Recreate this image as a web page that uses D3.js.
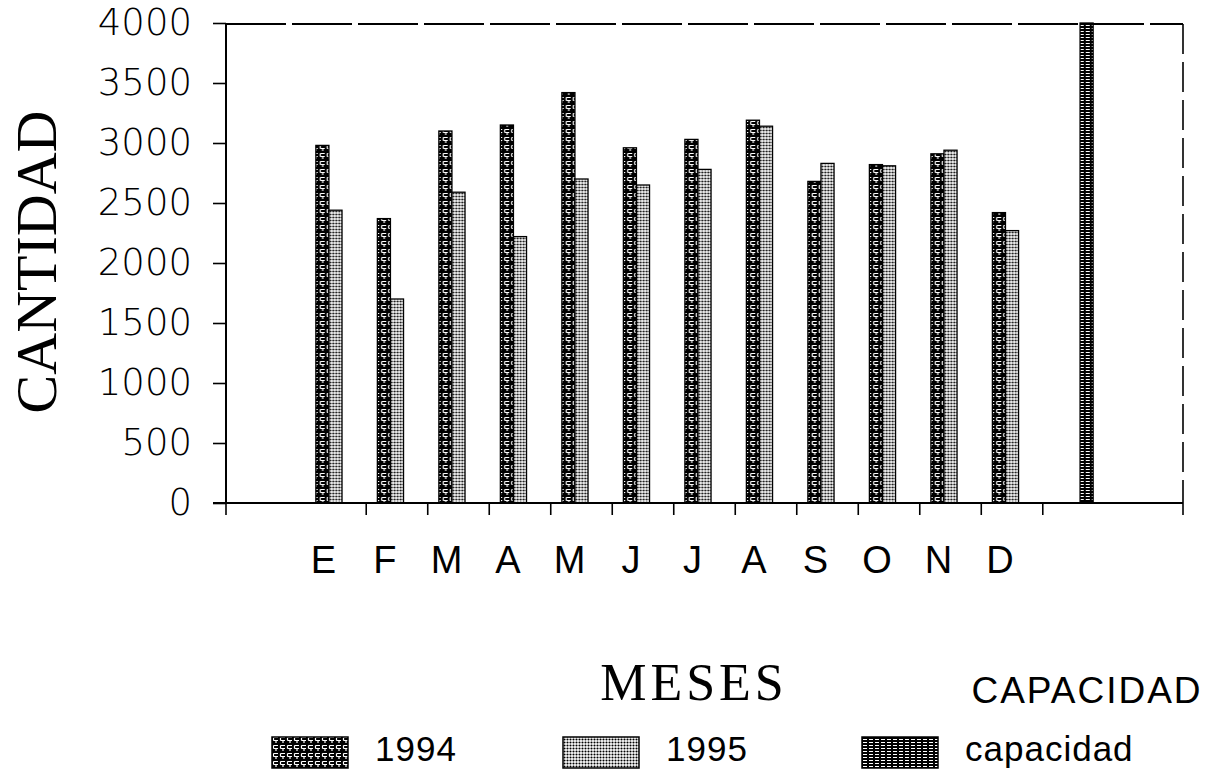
<!DOCTYPE html>
<html>
<head>
<meta charset="utf-8">
<script src="https://cdn.jsdelivr.net/npm/d3@7"></script>
<style>
  html, body { margin: 0; padding: 0; background: #fff; }
  svg { display: block; }
</style>
</head>
<body>
<div id="chart"></div>
<script>
// Monthly quantities 1994 vs 1995 with plant capacity, scanned Lotus-style chart.

const MONTHS = ["E", "F", "M", "A", "M", "J", "J", "A", "S", "O", "N", "D", ""];
const V1994 = [2980, 2370, 3100, 3150, 3420, 2960, 3030, 3190, 2680, 2820, 2910, 2420, 0];
const V1995 = [2440, 1700, 2590, 2220, 2700, 2650, 2780, 3140, 2830, 2810, 2940, 2270, 0];
const VCAP = [0, 0, 0, 0, 0, 0, 0, 0, 0, 0, 0, 0, 4000];
const SERIES = ["1994", "1995", "capacidad"];
const Y_TICKS = [0, 500, 1000, 1500, 2000, 2500, 3000, 3500, 4000];

const W = 1219, H = 775;
const PLOT = { left: 226, right: 1183, top: 23, bottom: 503 };
const INK = "#000";

const svg = d3.select("#chart").append("svg")
  .attr("width", W).attr("height", H)
  .attr("viewBox", [0, 0, W, H]);

// fill patterns that mimic the old plotter hatching
const defs = svg.append("defs");

const p94 = defs.append("pattern").attr("id", "pat1994")
  .attr("patternUnits", "userSpaceOnUse").attr("width", 7).attr("height", 8);
p94.append("rect").attr("width", 7).attr("height", 8).attr("fill", INK);
p94.append("path")
  .attr("d", "M1.5,1.5h4.5M1.5,1.5v3M1.5,4.5h4.5M4,4.5v2.5")
  .attr("stroke", "#fff").attr("stroke-width", 1.2).attr("fill", "none");

const p95 = defs.append("pattern").attr("id", "pat1995")
  .attr("patternUnits", "userSpaceOnUse").attr("width", 3).attr("height", 3);
p95.append("rect").attr("width", 3).attr("height", 3).attr("fill", "#fff");
p95.append("circle").attr("cx", 1.5).attr("cy", 1.5).attr("r", 1.08).attr("fill", INK);

const pCap = defs.append("pattern").attr("id", "patCap")
  .attr("patternUnits", "userSpaceOnUse").attr("width", 6).attr("height", 3);
pCap.append("rect").attr("width", 6).attr("height", 3).attr("fill", INK);
pCap.append("rect").attr("x", 1).attr("y", 1).attr("width", 4).attr("height", 1).attr("fill", "#fff");

const FILLS = ["url(#pat1994)", "url(#pat1995)", "url(#patCap)"];

const x = d3.scaleBand()
  .domain(d3.range(MONTHS.length))
  .range([PLOT.left, PLOT.right])
  .paddingInner(0)
  .paddingOuter(1.28);

const xs = d3.scaleBand()
  .domain([0, 1, 2])
  .range([0, x.step()])
  .paddingInner(0)
  .paddingOuter(0.85);

const y = d3.scaleLinear().domain([0, 4000]).range([PLOT.bottom, PLOT.top]);

const rows = MONTHS.map((m, i) => ({ i, values: [V1994[i], V1995[i], VCAP[i]] }));

// bars
const groups = svg.append("g").selectAll("g")
  .data(rows)
  .join("g")
  .attr("transform", (d) => `translate(${x(d.i)},0)`);

groups.selectAll("rect")
  .data((d) => d.values.map((v, s) => ({ v, s })).filter((e) => e.v > 0))
  .join("rect")
  .attr("x", (e) => xs(e.s))
  .attr("width", xs.bandwidth())
  .attr("y", (e) => y(e.v))
  .attr("height", (e) => y(0) - y(e.v))
  .attr("fill", (e) => FILLS[e.s])
  .attr("stroke", INK)
  .attr("stroke-width", 1.3);

// frame: solid left axis, dashed top and right
svg.append("line")
  .attr("x1", PLOT.left).attr("x2", PLOT.left)
  .attr("y1", PLOT.top).attr("y2", PLOT.bottom)
  .attr("stroke", INK).attr("stroke-width", 2);

svg.append("line")
  .attr("x1", PLOT.left).attr("x2", PLOT.right)
  .attr("y1", PLOT.top + 1).attr("y2", PLOT.top + 1)
  .attr("stroke", INK).attr("stroke-width", 1.8)
  .attr("stroke-dasharray", "60 6");

svg.append("line")
  .attr("x1", PLOT.right).attr("x2", PLOT.right)
  .attr("y1", PLOT.top + 1).attr("y2", PLOT.bottom)
  .attr("stroke", INK).attr("stroke-width", 1.6)
  .attr("stroke-dasharray", "30 8");

// y axis
svg.append("g")
  .attr("transform", `translate(${PLOT.left},0)`)
  .call(d3.axisLeft(y).tickValues(Y_TICKS).tickSize(13).tickPadding(21).tickFormat(d3.format("d")))
  .call((g) => g.select(".domain").remove())
  .call((g) => g.selectAll(".tick line").attr("stroke", INK).attr("stroke-width", 1.6))
  .call((g) => g.selectAll(".tick text")
    .attr("fill", INK)
    .style("font-family", "'DejaVu Sans', sans-serif")
    .style("font-size", "37px")
    .style("font-weight", "200"));

// x axis baseline and ticks at band boundaries
svg.append("line")
  .attr("x1", PLOT.left - 13).attr("x2", PLOT.right)
  .attr("y1", PLOT.bottom).attr("y2", PLOT.bottom)
  .attr("stroke", INK).attr("stroke-width", 2);

const xTicks = [PLOT.left, ...d3.range(MONTHS.length - 1).map((i) => x(i) + x.step()), PLOT.right];
svg.append("g").selectAll("line")
  .data(xTicks)
  .join("line")
  .attr("x1", (d) => d).attr("x2", (d) => d)
  .attr("y1", (d, i) => (i === 0 ? PLOT.bottom - 6 : PLOT.bottom))
  .attr("y2", PLOT.bottom + 12)
  .attr("stroke", INK).attr("stroke-width", 1.6);

svg.append("g").selectAll("text")
  .data(rows.filter((d) => MONTHS[d.i] !== ""))
  .join("text")
  .attr("x", (d) => x(d.i) + x.bandwidth() / 2 - 12)
  .attr("y", 573)
  .attr("text-anchor", "middle")
  .attr("fill", INK)
  .style("font-family", "'Liberation Sans Narrow', 'Liberation Sans', sans-serif")
  .style("font-size", "38px")
  .text((d) => MONTHS[d.i]);

// titles
svg.append("text")
  .attr("transform", "translate(56,262) rotate(-90)")
  .attr("text-anchor", "middle")
  .attr("fill", INK)
  .style("font-family", "'Liberation Serif', 'DejaVu Serif', serif")
  .style("font-size", "58px")
  .text("CANTIDAD");

svg.append("text")
  .attr("x", 694).attr("y", 700)
  .attr("text-anchor", "middle")
  .attr("fill", INK)
  .style("font-family", "'Liberation Serif', 'DejaVu Serif', serif")
  .style("font-size", "52px")
  .style("letter-spacing", "4px")
  .text("MESES");

svg.append("text")
  .attr("x", 1087).attr("y", 703)
  .attr("text-anchor", "middle")
  .attr("fill", INK)
  .style("font-family", "'Liberation Sans', sans-serif")
  .style("font-size", "37px")
  .style("letter-spacing", "2px")
  .text("CAPACIDAD");

// legend
const LEGEND_X = [272, 563, 862];
const legend = svg.append("g").selectAll("g")
  .data(SERIES)
  .join("g")
  .attr("transform", (d, i) => `translate(${LEGEND_X[i]},0)`);

legend.append("rect")
  .attr("x", 0).attr("y", 737)
  .attr("width", 76).attr("height", 31)
  .attr("fill", (d, i) => FILLS[i])
  .attr("stroke", INK).attr("stroke-width", 1.5);

legend.append("text")
  .attr("x", 103).attr("y", 761)
  .attr("fill", INK)
  .style("font-family", "'Liberation Sans', sans-serif")
  .style("font-size", "35px")
  .style("letter-spacing", "1px")
  .text((d) => d);
</script>
</body>
</html>
